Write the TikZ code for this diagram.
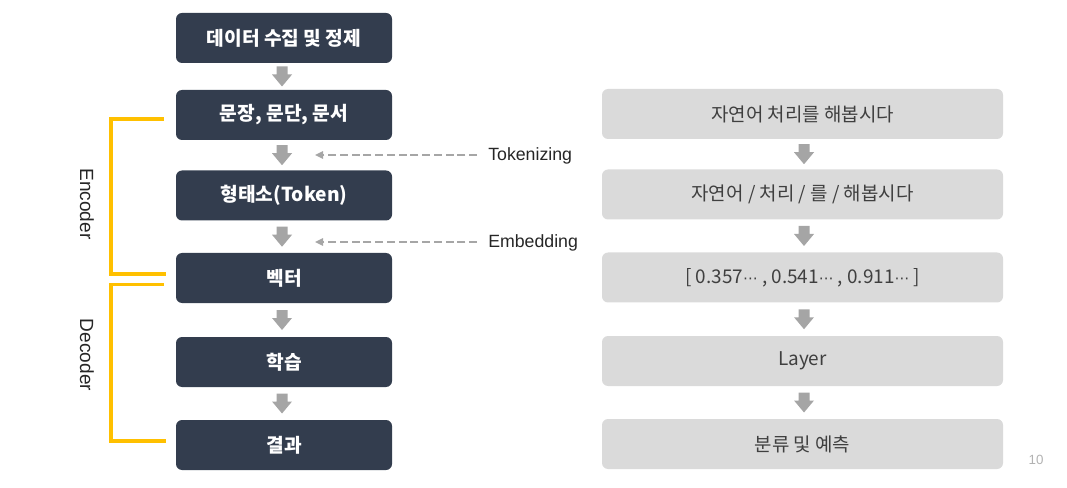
\documentclass[tikz,border=0pt]{standalone}
\usepackage{fontspec}
\setmainfont{Noto Sans CJK KR}
\newfontfamily\latinfont{Liberation Sans}
\newfontfamily\symfont{DejaVu Sans}
\usetikzlibrary{arrows.meta,calc}
\definecolor{navy}{HTML}{333D4E}
\definecolor{lightbox}{HTML}{DADADA}
\definecolor{arrowgray}{HTML}{A5A5A5}
\definecolor{dashgray}{HTML}{A6A6A6}
\definecolor{righttext}{HTML}{3F3F3F}
\definecolor{bracketyellow}{HTML}{FFC000}
\newcommand{\mdots}{{\symfont\fontsize{11pt}{13pt}\selectfont ⋯}}
\tikzset{
  darkbox/.style={rectangle, rounded corners=4.5pt, fill=navy, text=white,
    minimum width=162pt, minimum height=37.5pt, inner sep=0pt,
    font=\fontsize{14.4pt}{16pt}\selectfont\bfseries},
  lightboxstyle/.style={rectangle, rounded corners=4.5pt, fill=lightbox, text=righttext,
    minimum width=300.75pt, minimum height=37.5pt, inner sep=0pt,
    font=\fontsize{14.2pt}{16pt}\selectfont},
  sidelabel/.style={inner sep=0pt, anchor=west, text=black!85,
    font=\latinfont\fontsize{13.3pt}{15pt}\selectfont},
  rotlabel/.style={inner sep=0pt, rotate=-90, text=black!85,
    font=\latinfont\fontsize{14.3pt}{16pt}\selectfont},
  dasharrow/.style={draw=dashgray, line width=1.5pt, dash pattern=on 6pt off 2.8pt,
    -{Triangle[length=6pt,width=5.5pt,fill=dashgray]}},
  bracket/.style={draw=bracketyellow, line width=2.4pt},
  blockarrow/.pic={\fill[arrowgray] (-5.5,-10) -- (5.5,-10) -- (5.5,-2) -- (10,-2)
    -- (0,10) -- (-10,-2) -- (-5.5,-2) -- cycle;}
}
\begin{document}
\begin{tikzpicture}[x=0.75pt,y=-0.75pt]
\useasboundingbox (0,0) rectangle (1067,488);
% left column
\node[darkbox] (l1) at (284,38) {데이터 수집 및 정제};
\node[darkbox] (l2) at (284,115) {문장, 문단, 문서};
\node[darkbox] (l3) at (284,195.5) {형태소(Token)};
\node[darkbox] (l4) at (284,278) {벡터};
\node[darkbox] (l5) at (284,362) {학습};
\node[darkbox] (l6) at (284,445) {결과};
% right column
\node[lightboxstyle] (r1) at (802.5,114) {자연어 처리를 해봅시다};
\node[lightboxstyle] (r2) at (802.5,194.5) {자연어 / 처리 / 를 / 해봅시다};
\node[lightboxstyle] (r3) at (802.5,277.5) {[ 0.357\mdots\ , 0.541\mdots\ , 0.911\mdots\ ]};
\node[lightboxstyle] (r4) at (802.5,361) {Layer};
\node[lightboxstyle] (r5) at (802.5,444) {분류 및 예측};
% block arrows
\foreach \a/\b in {l1/l2,l2/l3,l3/l4,l4/l5,l5/l6}
  \pic at ($($(\a.south)!0.5!(\b.north)$)+(-2,0)$) {blockarrow};
\foreach \a/\b in {r1/r2,r2/r3,r3/r4,r4/r5}
  \pic at ($($(\a.south)!0.5!(\b.north)$)+(1.5,0)$) {blockarrow};
% side labels
\node[sidelabel] (tok) at (488,156) {Tokenizing};
\node[sidelabel] (emb) at (488,243) {Embedding};
\coordinate (tokend) at (315,155);
\coordinate (embend) at (315,242);
\draw[dasharrow] ($(tok.west)+(-11,-1)$) -- (tokend);
\draw[dasharrow] ($(emb.west)+(-11,-1)$) -- (embend);
% brackets
\draw[bracket] (164,119) -- (111,119) -- (111,274) -- (166,274);
\draw[bracket] (164,284.5) -- (111,284.5) -- (111,441) -- (166,441);
\node[rotlabel] (enc) at (87,204) {Encoder};
\node[rotlabel] (dec) at (87,355) {Decoder};
% page number
\node[inner sep=0pt, text=black!30, font=\latinfont\fontsize{10pt}{12pt}\selectfont] (pg) at (1036,460) {10};
\end{tikzpicture}
\end{document}
